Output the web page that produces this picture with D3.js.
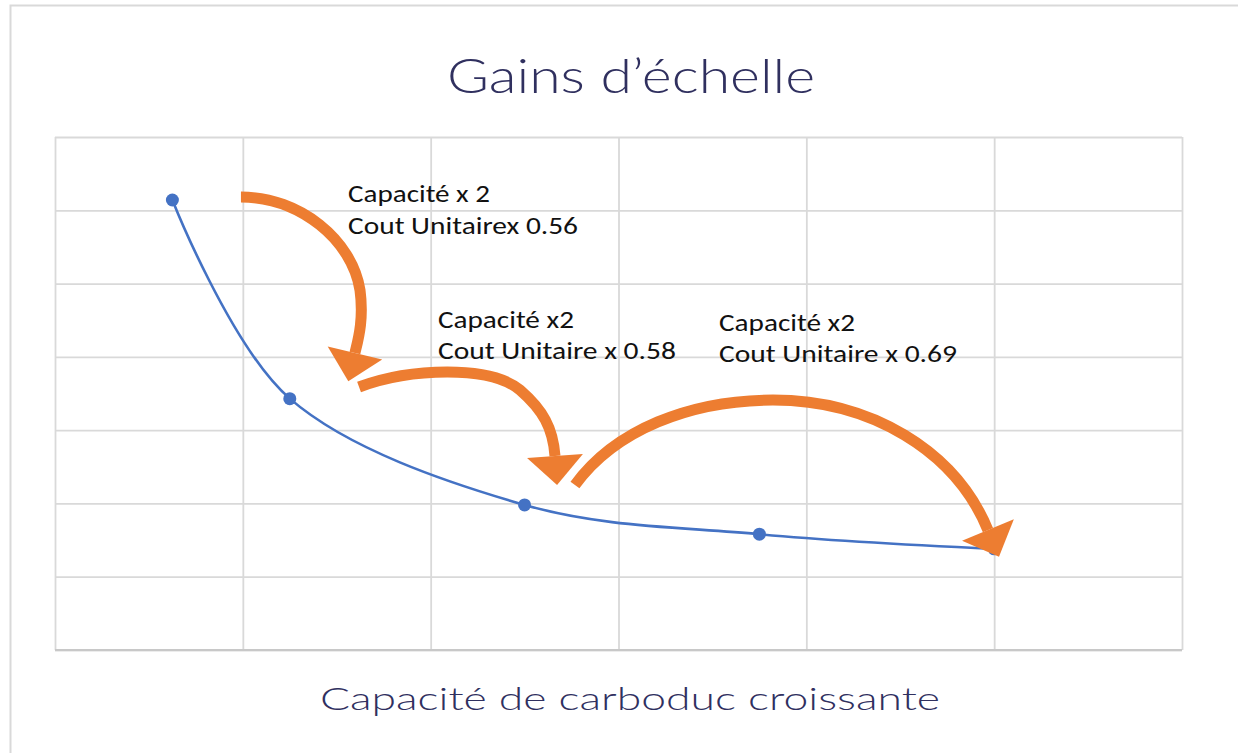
<!DOCTYPE html>
<html>
<head>
<meta charset="utf-8">
<script src="https://cdn.jsdelivr.net/npm/d3@7"></script>
<style>
  html, body { margin: 0; padding: 0; background: #ffffff; }
  svg { display: block; }
</style>
</head>
<body>
<svg id="chart" width="1238" height="753"></svg>
<script>
// ---- Data ----
const capacity = [1, 2, 4, 6, 8];                 // capacité (relative)
const unitCost = [6.14, 3.43, 1.98, 1.58, 1.38];  // coût unitaire (relative)
const xTicks = [0, 1.6, 3.2, 4.8, 6.4, 8.0, 9.6];
const yTicks = [0, 1, 2, 3, 4, 5, 6, 7];
const titleText = "Gains d\u2019échelle";
const xAxisTitle = "Capacité de carboduc croissante";
const annotationLines = [
  ["Capacité x 2", "Cout Unitairex 0.56"],
  ["Capacité x2", "Cout Unitaire x 0.58"],
  ["Capacité x2", "Cout Unitaire x 0.69"]
];
// annotation anchor in data units [x, y]
const annotationAnchors = [[2.496, 6.113], [3.262, 4.394], [5.656, 4.353]];
const annotationWidths = [[142, 230], [136, 238], [136, 238]];
// curved arrows (data units): start, then cubic segments [c1, c2, end]
const arrows = [
  { start: [1.584, 6.181], segs: [[[2.087, 6.181], [2.530, 5.595], [2.598, 4.912]],
                                  [[2.632, 4.503], [2.581, 4.230], [2.555, 4.053]]] },
  { start: [2.590, 3.589], segs: [[[3.024, 3.848], [3.705, 3.889], [3.961, 3.548]],
                                  [[4.157, 3.275], [4.242, 3.029], [4.259, 2.647]]] },
  { start: [4.429, 2.251], segs: [[[4.770, 3.002], [5.409, 3.411], [6.116, 3.411]],
                                  [[6.942, 3.411], [7.666, 2.729], [7.947, 1.637]]] }
];

// ---- Layout ----
const svg = d3.select("#chart");
const plot = { left: 55, right: 1182, top: 137, bottom: 650 };
const x = d3.scaleLinear().domain([0, 9.6]).range([plot.left, plot.right]);
const y = d3.scaleLinear().domain([0, 7]).range([plot.bottom, plot.top]);

// outer frame
svg.append("rect")
  .attr("x", 10.5).attr("y", 5.5)
  .attr("width", 1240).attr("height", 770)
  .attr("fill", "#ffffff")
  .attr("stroke", "#d9d9d9").attr("stroke-width", 2);

// gridlines
const gridColor = "#d9d9d9";
svg.append("g")
  .attr("transform", `translate(0,${plot.bottom})`)
  .call(d3.axisBottom(x).tickValues(xTicks).tickSize(-(plot.bottom - plot.top)).tickFormat(""))
  .call(g => g.select(".domain").remove())
  .call(g => g.selectAll(".tick line").attr("stroke", gridColor).attr("stroke-width", 1.8));
svg.append("g")
  .attr("transform", `translate(${plot.left},0)`)
  .call(d3.axisLeft(y).tickValues(yTicks).tickSize(-(plot.right - plot.left)).tickFormat(""))
  .call(g => g.select(".domain").remove())
  .call(g => g.selectAll(".tick line").attr("stroke", gridColor).attr("stroke-width", 1.8));
// bottom axis line
svg.append("line")
  .attr("x1", x(0)).attr("x2", x(9.6))
  .attr("y1", y(0)).attr("y2", y(0))
  .attr("stroke", "#c8c8c8").attr("stroke-width", 2.2);

// title & axis title
svg.append("text")
  .attr("x", 631).attr("y", 93)
  .attr("text-anchor", "middle")
  .attr("font-family", "'Century Gothic', Lato, 'Noto Sans', sans-serif")
  .attr("font-weight", 300)
  .attr("font-size", 48)
  .attr("fill", "#30305f")
  .attr("textLength", 368).attr("lengthAdjust", "spacingAndGlyphs")
  .text(titleText);
svg.append("text")
  .attr("x", 630).attr("y", 710)
  .attr("text-anchor", "middle")
  .attr("font-family", "'Century Gothic', Lato, 'Noto Sans', sans-serif")
  .attr("font-weight", 300)
  .attr("font-size", 32)
  .attr("fill", "#30305f")
  .attr("textLength", 620).attr("lengthAdjust", "spacingAndGlyphs")
  .text(xAxisTitle);

// data line
const pts = capacity.map((c, i) => [c, unitCost[i]]);
svg.append("path")
  .datum(pts)
  .attr("fill", "none")
  .attr("stroke", "#4472c4")
  .attr("stroke-width", 2.6)
  .attr("d", d3.line().x(d => x(d[0])).y(d => y(d[1])).curve(d3.curveCardinal.tension(0)));
svg.append("g").selectAll("circle")
  .data(pts).join("circle")
  .attr("cx", d => x(d[0])).attr("cy", d => y(d[1]))
  .attr("r", 6.5).attr("fill", "#4472c4");

// annotation texts
annotationLines.forEach((lines, i) => {
  const [ax, ay] = annotationAnchors[i];
  lines.forEach((ln, j) => {
    svg.append("text")
      .attr("x", x(ax)).attr("y", y(ay) + j * 31.5)
      .attr("font-family", "Carlito, Calibri, 'Open Sans', sans-serif")
      .attr("font-size", 24)
      .attr("fill", "#111111")
      .attr("textLength", annotationWidths[i][j]).attr("lengthAdjust", "spacingAndGlyphs")
      .text(ln);
  });
});

// curved arrows
const orange = "#ed7d31";
const P = d => [x(d[0]), y(d[1])];
arrows.forEach(a => {
  const s = P(a.start);
  let d = `M${s[0]},${s[1]}`;
  a.segs.forEach(seg => {
    const [c1, c2, e] = seg.map(P);
    d += ` C${c1[0]},${c1[1]} ${c2[0]},${c2[1]} ${e[0]},${e[1]}`;
  });
  svg.append("path")
    .attr("d", d)
    .attr("fill", "none")
    .attr("stroke", orange)
    .attr("stroke-width", 11)
    .attr("stroke-linecap", "butt");
  const last = a.segs[a.segs.length - 1];
  const c2 = P(last[1]), e = P(last[2]);
  let dx = e[0] - c2[0], dy = e[1] - c2[1];
  const len = Math.hypot(dx, dy); dx /= len; dy /= len;
  const L = 29, W = 28;
  const tip = [e[0] + dx * L, e[1] + dy * L];
  const b1 = [e[0] - dy * W, e[1] + dx * W];
  const b2 = [e[0] + dy * W, e[1] - dx * W];
  svg.append("path")
    .attr("d", `M${b1[0]},${b1[1]} L${tip[0]},${tip[1]} L${b2[0]},${b2[1]} Z`)
    .attr("fill", orange);
});
</script>
</body>
</html>
